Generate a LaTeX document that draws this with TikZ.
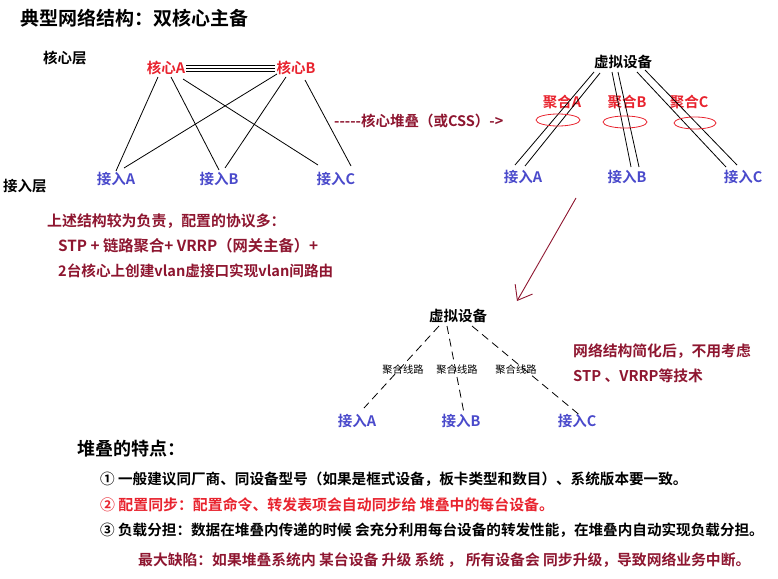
\documentclass[tikz,border=0pt]{standalone}
\usepackage{fontspec}
\setmainfont{Noto Sans CJK SC}[BoldFont={Noto Sans CJK SC Bold}]
\usetikzlibrary{arrows.meta}
\definecolor{cred}{HTML}{E8232E}
\definecolor{cblue}{HTML}{4A4ACB}
\definecolor{dred}{HTML}{8E1630}
\tikzset{
  lbl/.style={font=\bfseries\fontsize{14.5}{16}\selectfont, inner sep=1pt},
  core/.style={lbl, text=cred},
  acc/.style={lbl, text=cblue},
  agg/.style={lbl, text=cred},
  vdev/.style={lbl, text=black},
  link/.style={line width=0.8pt, black},
  dlink/.style={line width=0.8pt, black, dash pattern=on 8pt off 5pt},
  para/.style={font=\bfseries\fontsize{14.5}{16}\selectfont, anchor=west, inner sep=0pt},
  small/.style={font=\fontsize{10.3}{12}\selectfont, inner sep=0pt},
}
\begin{document}
\begin{tikzpicture}[x=1pt,y=-1pt]
\useasboundingbox (0,0) rectangle (778,578);
% title
\node[para, font=\bfseries\fontsize{19}{21}\selectfont] (title) at (20,18) {典型网络结构：双核心主备};
\node[para] (corelayer) at (43,58) {核心层};
\node[para] (acclayer) at (3,186) {接入层};
% left topology
\node[core] (cA) at (166,68) {核心A};
\node[core] (cB) at (296,68) {核心B};
\node[acc] (aA) at (116,179) {接入A};
\node[acc] (aB) at (219,179) {接入B};
\node[acc] (aC) at (336,179) {接入C};
\foreach \d in {-3,0,3} \draw[link] ([yshift=\d]cA.east) -- ([yshift=\d]cB.west);
\draw[link] (158,77) -- (aA.north);
\draw[link] (171,77) -- (219,170);
\draw[link] (183,79) -- (318,165);
\draw[link] (277,74) -- (124,168);
\draw[link] (286,77) -- (225,168);
\draw[link] (305,80) -- (351,166);
% stacking label
\node[para, text=dred] (stack) at (334,121) {-{}-{}-{}-{}-核心堆叠（或CSS）-{}>};
% right topology
\node[vdev] (vd) at (623,62) {虚拟设备};
\node[agg] (gA) at (562,102) {聚合A};
\node[agg] (gB) at (627,102) {聚合B};
\node[agg] (gC) at (689,102) {聚合C};
\node[acc] (rA) at (523,177) {接入A};
\node[acc] (rB) at (627,177) {接入B};
\node[acc] (rC) at (743,177) {接入C};
\draw[link] (594,72) -- (515,165);
\draw[link] (600,73) -- (525,166);
\draw[link] (612,72) -- (631,167);
\draw[link] (618,72) -- (639,167);
\draw[link] (637,72) -- (726,167);
\draw[link] (645,70) -- (737,165);
\draw[cred, line width=0.8pt] (558,120) ellipse [x radius=22, y radius=6];
\draw[cred, line width=0.8pt] (625,122) ellipse [x radius=22, y radius=6];
\draw[cred, line width=0.8pt] (695,123) ellipse [x radius=21, y radius=6];
% arrow
\coordinate (arS) at (576,198);
\coordinate (arE) at (517,301);
\draw[dred, line width=0.9pt, -{Straight Barb[length=13pt,width=20pt]}] (arS) -- (arE);
% left text block
\node[para, text=dred, font=\bfseries\fontsize{14.9}{16}\selectfont] (t1) at (47,221) {上述结构较为负责，配置的协议多：};
\node[para, text=dred, font=\bfseries\fontsize{15.3}{16}\selectfont] (t2) at (58,246) {STP + 链路聚合+ VRRP（网关主备）+};
\node[para, text=dred, font=\bfseries\fontsize{14.6}{16}\selectfont] (t3) at (58,271) {2台核心上创建vlan虚接口实现vlan间路由};
% lower topology
\node[vdev] (vd2) at (458,316) {虚拟设备};
\node[acc] (lA) at (357,421) {接入A};
\node[acc] (lB) at (461,421) {接入B};
\node[acc] (lC) at (577,421) {接入C};
\draw[dlink] (439,326) -- (364,408);
\draw[dlink] (447,326) -- (464,413);
\draw[dlink] (472,326) -- (582,417);
\node[small] (l1) at (403,370) {聚合线路};
\node[small] (l2) at (457,370) {聚合线路};
\node[small] (l3) at (516,370) {聚合线路};
\node[para, text=dred, font=\bfseries\fontsize{14.8}{16}\selectfont] (r1) at (573,351) {网络结构简化后，不用考虑};
\node[para, text=dred, font=\bfseries\fontsize{14.8}{16}\selectfont] (r2) at (573,376) {STP 、VRRP等技术};
% features
\node[para, font=\bfseries\fontsize{18}{19}\selectfont] (feat) at (77,449) {堆叠的特点：};
\node[para, font=\bfseries\fontsize{14.6}{15}\selectfont] (f1) at (100,479) {① 一般建议同厂商、同设备型号（如果是框式设备，板卡类型和数目）、系统版本要一致。};
\node[para, font=\bfseries\fontsize{14.9}{15}\selectfont, text=cred] (f2) at (100,505) {② 配置同步：配置命令、转发表项会自动同步给 堆叠中的每台设备。};
\node[para, font=\bfseries\fontsize{14.6}{15}\selectfont] (f3) at (100,530) {③ 负载分担：数据在堆叠内传递的时候 会充分利用每台设备的转发性能，在堆叠内自动实现负载分担。};
\node[para, font=\bfseries\fontsize{14.8}{15}\selectfont, text=dred] (f4) at (138,560) {最大缺陷：如果堆叠系统内 某台设备 升级 系统 ， 所有设备会 同步升级，导致网络业务中断。};
\end{tikzpicture}
\end{document}
